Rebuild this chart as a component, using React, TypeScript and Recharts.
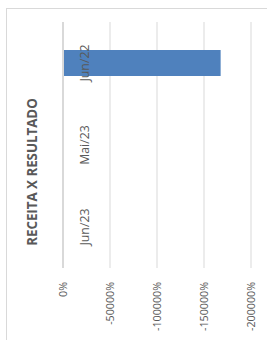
import React from 'react';
import { BarChart, Bar, XAxis, YAxis, CartesianGrid, ReferenceLine, Label } from 'recharts';

const title = 'RECEITA X RESULTADO';
const categories = ['Jun/22', 'Mai/23', 'Jun/23'];
const values = [-167700, null, null];
const valueTicks = [0, -50000, -100000, -150000, -200000];

const data = categories.map((c, i) => ({ month: c, value: values[i] }));

const TEXT = '#595959';
const FONT = '"Open Sans", sans-serif';

const fmtPct = (v: number) => `${v}%`;

const ValueTick = (props: any) => {
  const { x, y, payload } = props;
  return (
    <text
      x={x + 4}
      y={y + 14}
      transform={`rotate(-90 ${x + 4} ${y + 14})`}
      textAnchor="end"
      fill={TEXT}
      fontSize={10.7}
      fontFamily={FONT}
    >
      {fmtPct(payload.value)}
    </text>
  );
};

const CatTick = (props: any) => {
  const { x, y, payload } = props;
  const bx = x + 26;
  return (
    <text
      x={bx}
      y={y}
      transform={`rotate(-90 ${bx} ${y})`}
      textAnchor="middle"
      fill={TEXT}
      fontSize={12.3}
      fontFamily={FONT}
    >
      {payload.value}
    </text>
  );
};

const TitleLabel = (props: any) => {
  const vb = props.viewBox || { x: 0, y: 0 };
  const tx = vb.x + 37;
  const ty = vb.y + 150;
  return (
    <text
      x={tx}
      y={ty}
      transform={`rotate(-90 ${tx} ${ty})`}
      textAnchor="middle"
      fill={TEXT}
      fontSize={13.3}
      fontWeight="bold"
      fontFamily={FONT}
    >
      {title}
    </text>
  );
};

export default function App() {
  return (
    <div
      style={{
        position: 'absolute',
        left: 0,
        top: 0,
        width: 267,
        height: 340,
        overflow: 'hidden',
        background: '#ffffff',
      }}
    >
      <div
        style={{
          position: 'absolute',
          left: 6,
          top: 8,
          width: 400,
          height: 400,
          border: '1px solid #d9d9d9',
        }}
      />
      <div style={{ position: 'absolute', left: 0, top: 0 }}>
        <BarChart
          width={267}
          height={340}
          layout="vertical"
          data={data}
          margin={{ top: 22, right: 16, bottom: 0, left: 0 }}
          barSize={26}
        >
          <CartesianGrid horizontal={false} stroke="#d9d9d9" />
          <XAxis
            type="number"
            domain={[-200000, 0]}
            reversed
            ticks={valueTicks}
            interval={0}
            height={72}
            axisLine={false}
            tickLine={false}
            tickSize={0}
            tickMargin={0}
            tick={<ValueTick />}
          />
          <YAxis
            type="category"
            dataKey="month"
            width={63}
            axisLine={false}
            tickLine={false}
            tickSize={0}
            tickMargin={0}
            tick={<CatTick />}
          >
            <Label content={<TitleLabel />} />
          </YAxis>
          <ReferenceLine x={0} stroke="#d9d9d9" strokeWidth={2} />
          <Bar dataKey="value" fill="#4f81bd" isAnimationActive={false} />
        </BarChart>
      </div>
    </div>
  );
}
